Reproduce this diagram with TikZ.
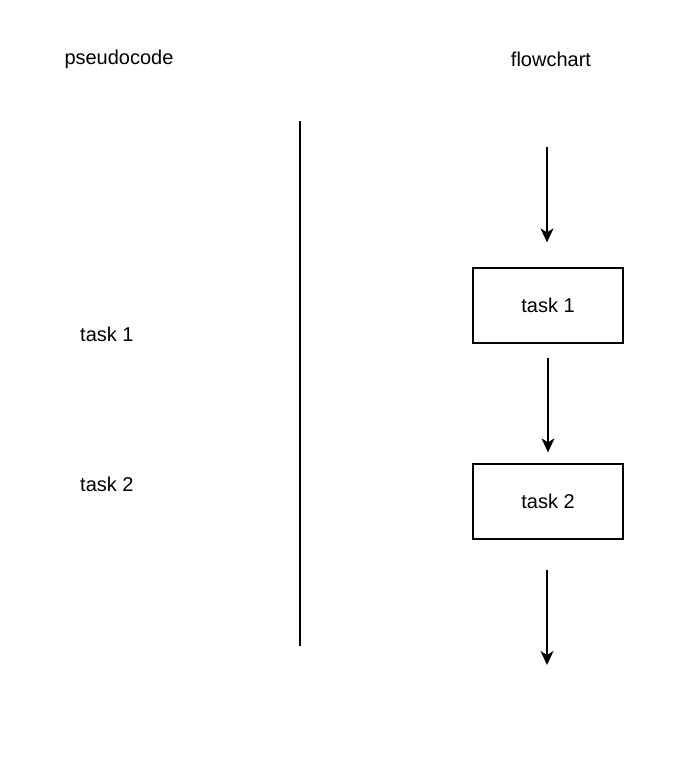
\documentclass[tikz,border=0pt]{standalone}
\usepackage{fontspec}
\setmainfont{Liberation Sans}
\usetikzlibrary{arrows.meta}

\begin{document}
\begin{tikzpicture}[x=1pt,y=-1pt,
    txt/.style={inner sep=0pt,font=\fontsize{20}{23}\selectfont},
    taskbox/.style={txt,draw,line width=1.3pt,minimum width=150pt,minimum height=75pt},
    arr/.style={line width=1.3pt,-{Stealth[length=14pt,width=13pt,inset=4pt]}}]
  \useasboundingbox (0,0) rectangle (696,776);
  % headings
  \node[txt] (pc) at (119,59) {pseudocode};
  \node[txt] (fc) at (551,59) {flowchart};
  % pseudocode column
  \node[txt,anchor=west] (p1) at (80,334) {task 1};
  \node[txt,anchor=west] (p2) at (80,484) {task 2};
  \coordinate (top) at (300,121);
  \coordinate (bot) at (300,646);
  \draw[line width=1.3pt] (top) -- (bot);
  % flowchart column
  \node[taskbox] (t1) at (548,305.5) {task 1};
  \node[taskbox] (t2) at (548,501.5) {task 2};
  \coordinate (in) at (547,147);
  \coordinate (out) at (547,665);
  \draw[arr,shorten >=25pt] (in) -- (in|-t1.north);
  \draw[arr,shorten <=14pt,shorten >=11pt] (t1) -- (t2);
  \draw[arr,shorten <=30pt] (out|-t2.south) -- (out);
\end{tikzpicture}
\end{document}
